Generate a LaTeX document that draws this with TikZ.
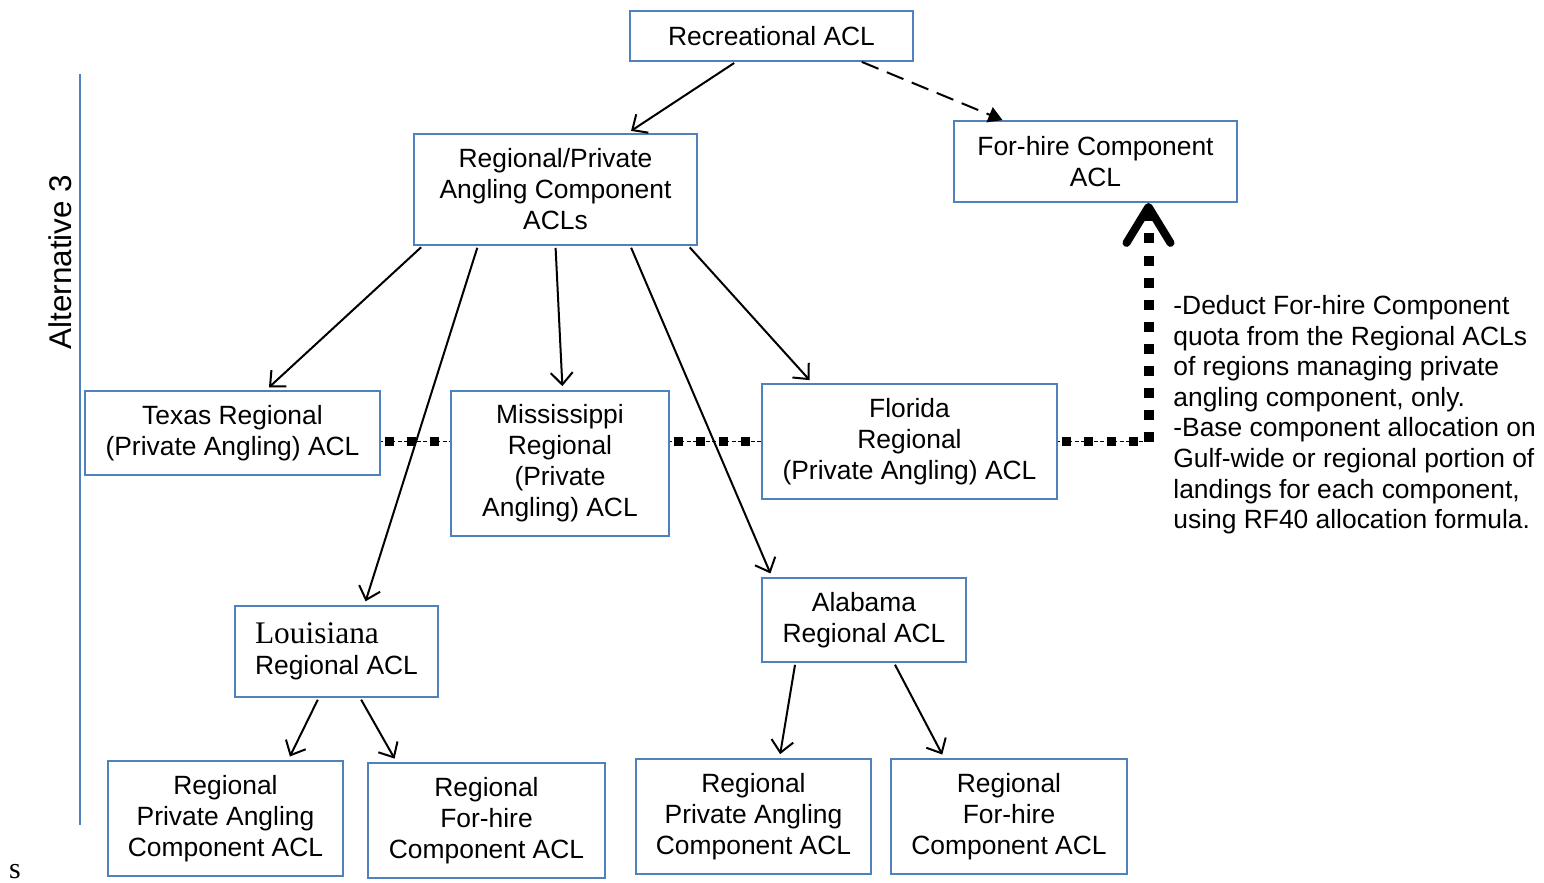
\documentclass[tikz,border=0pt]{standalone}
\usepackage{fontspec}
\setmainfont{Liberation Sans}
\newfontfamily\timesfont{Liberation Serif}
\usetikzlibrary{arrows.meta}
\definecolor{aclblue}{RGB}{79,129,189}

\begin{document}
\begin{tikzpicture}[
                x = 0.5pt, y = -0.5pt,
                acl/.style 2 args = {
                    draw = aclblue,
                    line width = 0.9pt,
                    align = center,
                    inner sep = 0pt,
                    minimum width = #1,
                    minimum height = #2,
                    font = \fontsize{13.2}{15.5}\selectfont
                },
                arr/.style = {line width = 1pt, -{Straight Barb[length=6pt,width=11pt]}, shorten >= 2pt, shorten <= 1pt},
                dsh/.style = {line width = 1pt, dash pattern = on 9pt off 4.5pt, -{Triangle[length=7pt,width=8pt]}},
                sq/.style = {
                    line width = 4.5pt,
                    dash pattern = on 4.5pt off 6.75pt,
                    dash phase = -2pt,
                    preaction = {draw, line width = 0.6pt, dash pattern = on 2pt off 1.2pt}
                },
                vsq/.style = {
                    line width = 5pt,
                    dash pattern = on 5pt off 6pt,
                    -{Straight Barb[line width=4pt,length=18pt,width=22pt,round]}
                }
            ]

            \useasboundingbox (0,0) rectangle (1544,883);

            % side line
            \draw[aclblue, line width = 1pt] (80,74) -- (80,825);
            \node[rotate = 90, font = \fontsize{15.7}{18}\selectfont] (alt) at (60,262) {Alternative 3};

            \node[acl = {141.5pt}{25pt}] (rec) at (771.5,36) {Recreational ACL};
            \node[acl = {141.5pt}{55.5pt}] (rpa) at (555.5,189.5) {Regional/Private\\Angling Component\\ACLs};
            \node[acl = {141.5pt}{40.5pt}] (fh) at (1095.5,161.5) {For-hire Component\\ACL};

            \node[acl = {147.5pt}{42pt}] (tx) at (232.5,433) {Texas Regional\\(Private Angling) ACL};
            \node[acl = {109pt}{72.5pt}] (ms) at (560,463.5) {Mississippi\\Regional\\(Private\\Angling) ACL};
            \node[acl = {147.5pt}{57.5pt}] (fl) at (909.5,441.5) {Florida\\Regional\\(Private Angling) ACL};

            \node[acl = {101.5pt}{45.5pt}, align = left] (la) at (336.5,651.5) {{\timesfont\fontsize{15.7}{16.5}\selectfont Louisiana}\\Regional ACL};
            \node[acl = {102pt}{42pt}] (al) at (864,620) {Alabama\\Regional ACL};

            \node[acl = {117.5pt}{57.5pt}] (la1) at (225.5,818.5) {Regional\\Private Angling\\Component ACL};
            \node[acl = {118.5pt}{57.5pt}] (la2) at (486.5,820.5) {Regional\\For-hire\\Component ACL};
            \node[acl = {117.5pt}{57.5pt}] (al1) at (753.5,816.5) {Regional\\Private Angling\\Component ACL};
            \node[acl = {118pt}{57.5pt}] (al2) at (1009,816.5) {Regional\\For-hire\\Component ACL};

            \node[anchor = north west, align = left, inner sep = 0pt, font = \fontsize{13.2}{15.3}\selectfont] (note) at (1173,295)
                {-Deduct For-hire Component\\quota from the Regional ACLs\\of regions managing private\\angling component, only.\\-Base component allocation on\\Gulf-wide or regional portion of\\landings for each component,\\using RF40 allocation formula.};

            \node[font = \timesfont\fontsize{15}{17}\selectfont, inner sep = 0pt] (s) at (15,872) {s};

            \draw[dsh] (rec.344) -- (fh.156);
            \draw[arr] (rec.216) -- (rpa.38);

            % dotted links
            \coordinate (bend) at (fl.east -| fh.322);
            \draw[sq] (tx.east |- fl.east) -- (ms.west |- fl.east);
            \draw[sq] (ms.east |- fl.east) -- (fl.west);
            \draw[sq] (fl.east) -- (bend);
            \draw[vsq] (bend) -- (fh.322);

            \draw[arr] (rpa.203) -- (tx.52);
            \draw[arr] (rpa.216) -- (la.59);
            \draw[arr] (rpa.south) -- (ms.88);
            \draw[arr] (rpa.323) -- (al.155);
            \draw[arr] (rpa.337) -- (fl.149);

            \draw[arr] (la.249) -- (la1.43);
            \draw[arr] (la.297) -- (la2.147);
            \draw[arr] (al.212) -- (al1.66);
            \draw[arr] (al.305) -- (al2.138);

\end{tikzpicture}
\end{document}
